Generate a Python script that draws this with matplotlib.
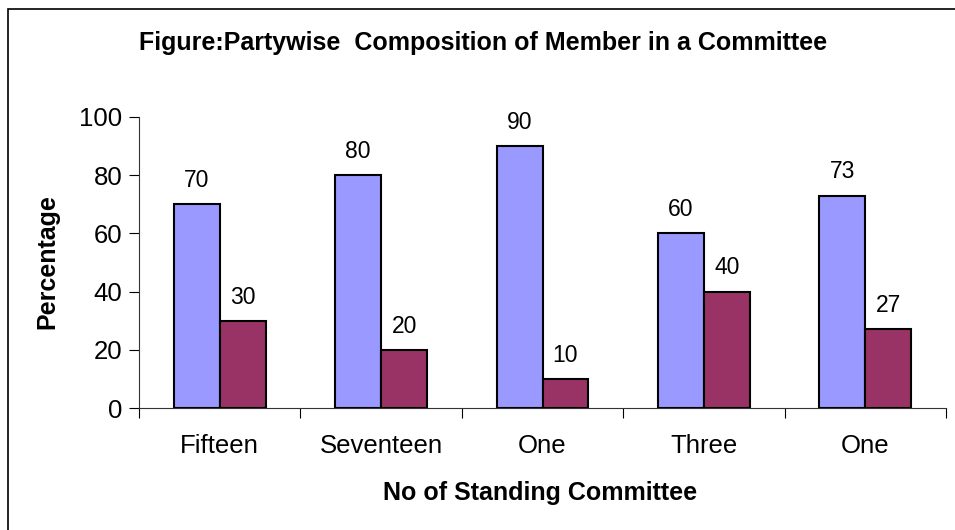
import matplotlib.pyplot as plt
import numpy as np
from matplotlib.patches import Rectangle

plt.rcParams['font.family'] = ['Liberation Sans', 'DejaVu Sans']

categories = ['Fifteen', 'Seventeen', 'One', 'Three', 'One']
series_a = [70, 80, 90, 60, 73]
series_b = [30, 20, 10, 40, 27]

fig = plt.figure(figsize=(9.55, 5.3), dpi=100)
ax = fig.add_axes([139 / 955, 1 - 408 / 530, (946 - 139) / 955, (408 - 117) / 530])

# outer chart border (only top and left visible in the crop)
fig.patches.append(Rectangle((8 / 955, -0.1), 1.2, 1 - 9 / 530 + 0.1,
                             transform=fig.transFigure, fill=False,
                             edgecolor='black', linewidth=1.2))

x = np.arange(len(categories))
w = 0.285
bars_a = ax.bar(x - w / 2, series_a, w, color='#9999FF', edgecolor='black', linewidth=1.5)
bars_b = ax.bar(x + w / 2, series_b, w, color='#993366', edgecolor='black', linewidth=1.5)

for bars in (bars_a, bars_b):
    for b in bars:
        ax.annotate(f'{b.get_height():g}', (b.get_x() + b.get_width() / 2, b.get_height()),
                    xytext=(0, 17), textcoords='offset points', ha='center', va='center',
                    fontsize=16.5)

ax.set_xlim(-0.5, len(categories) - 0.5)
ax.set_ylim(0, 100)
ax.set_yticks([0, 20, 40, 60, 80, 100])
ax.set_xticks(np.arange(len(categories) + 1) - 0.5)
ax.set_xticklabels([])
ax.set_xticks(x, minor=True)
ax.set_xticklabels(categories, minor=True)
ax.tick_params(axis='x', which='minor', length=0, pad=19, labelsize=18.5)
ax.tick_params(axis='x', which='major', length=7, direction='out')
ax.tick_params(axis='y', length=7, labelsize=18.5, pad=5)

for s in ('top', 'right'):
    ax.spines[s].set_visible(False)
ax.spines['left'].set_color('#333333')
ax.spines['bottom'].set_color('#333333')

fig.text(47 / 955, 1 - 262 / 530, 'Percentage', rotation=90, ha='center', va='center',
         fontsize=18, fontweight='bold')
fig.text(540 / 955, 1 - 493 / 530, 'No of Standing Committee', ha='center', va='center',
         fontsize=18, fontweight='bold')
fig.text(483 / 955, 1 - 43 / 530, 'Figure:Partywise  Composition of Member in a Committee',
         ha='center', va='center', fontsize=18, fontweight='bold')

fig.savefig('out.png', dpi=100)
